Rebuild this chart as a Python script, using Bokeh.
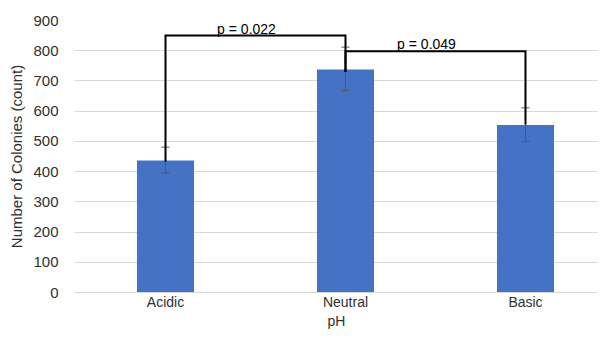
from bokeh.plotting import figure
from bokeh.models import Range1d, FixedTicker, ColumnDataSource, Whisker, TeeHead
from bokeh.core.properties import value
from bokeh.embed import file_html
from bokeh.resources import INLINE

# ---- data ----
categories = ["Acidic", "Neutral", "Basic"]
colonies = [437, 738, 554]
err_upper = [481, 812, 611]
err_lower = [395, 668, 500]
y_ticks = [0, 100, 200, 300, 400, 500, 600, 700, 800, 900]

bracket_pairs = [("Acidic", "Neutral"), ("Neutral", "Basic")]
bracket_tops = [850, 798]
bracket_left_ends = [433, 730]
bracket_right_ends = [730, 556]
p_labels = ["p = 0.022", "p = 0.049"]

FONT = "Liberation Sans"
TXT = "#303030"

pos = list(range(len(categories)))
idx = {c: i for i, c in enumerate(categories)}

p = figure(width=598, height=331, output_backend="svg", toolbar_location=None,
           x_range=Range1d(-0.5056, 2.4056), y_range=Range1d(0, 900),
           min_border_left=74, min_border_right=0, min_border_top=20, min_border_bottom=34)
p.outline_line_color = None

src = ColumnDataSource(dict(x=pos, top=colonies, up=err_upper, lo=err_lower))
p.vbar(x="x", top="top", width=0.317, source=src, fill_color="#4472C4", line_color=None)

wh = Whisker(base="x", upper="up", lower="lo", source=src, line_color="#595959", line_width=1,
             upper_head=TeeHead(size=8, line_color="#595959", line_width=1),
             lower_head=TeeHead(size=8, line_color="#595959", line_width=1))
wh.level = "glyph"
p.add_layout(wh)

xs, ys, tx, ty = [], [], [], []
for (a, b), top, le, re in zip(bracket_pairs, bracket_tops, bracket_left_ends, bracket_right_ends):
    xa, xb = idx[a], idx[b]
    xs.append([xa, xa, xb, xb])
    ys.append([le, top, top, re])
    tx.append((xa + xb) / 2)
    ty.append(top)
br = p.multi_line(xs=xs, ys=ys, line_color="black", line_width=2, line_join="miter")
br.level = "overlay"
t = p.text(x=tx, y=ty, text=p_labels, text_font=value(FONT), text_font_size="14px",
           text_align="center", text_baseline="bottom", x_offset=-9, y_offset=1,
           text_color="black")
t.level = "overlay"

p.xgrid.grid_line_color = None
p.ygrid.grid_line_color = "#d9d9d9"
p.ygrid.grid_line_width = 1

p.yaxis.ticker = FixedTicker(ticks=y_ticks)
p.yaxis.axis_line_color = None
p.yaxis.major_tick_line_color = None
p.yaxis.minor_tick_line_color = None
p.yaxis.major_tick_out = 0
p.yaxis.major_tick_in = 0
p.yaxis.major_label_standoff = 16
p.yaxis.axis_label = "Number of Colonies (count)"
p.yaxis.axis_label_standoff = 5
p.yaxis.major_label_text_font_size = "15px"
p.yaxis.axis_label_text_font_size = "15px"

p.xaxis.ticker = FixedTicker(ticks=pos)
p.xaxis.major_label_overrides = {i: c for i, c in zip(pos, categories)}
p.xaxis.axis_line_color = "#d9d9d9"
p.xaxis.major_tick_line_color = None
p.xaxis.minor_tick_line_color = None
p.xaxis.major_tick_out = 0
p.xaxis.major_tick_in = 0
p.xaxis.major_label_standoff = 1
p.xaxis.axis_label = "pH"
p.xaxis.axis_label_standoff = 0
p.xaxis.major_label_text_font_size = "14px"
p.xaxis.axis_label_text_font_size = "14px"

for ax in (p.xaxis, p.yaxis):
    ax.major_label_text_font = FONT
    ax.major_label_text_color = TXT
    ax.axis_label_text_font = FONT
    ax.axis_label_text_font_style = "normal"
    ax.axis_label_text_color = TXT

open("out.html", "w").write(file_html(p, INLINE))
